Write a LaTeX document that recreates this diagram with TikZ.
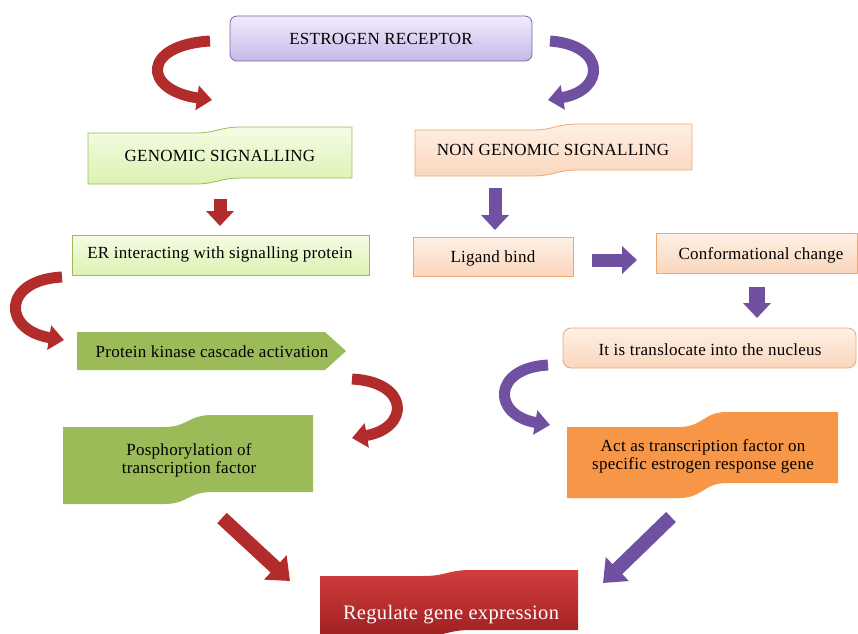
\documentclass[tikz,border=0pt]{standalone}
\usepackage{fontspec}
\setmainfont{Liberation Serif}[LetterSpace=1.5]
\usetikzlibrary{arrows.meta,shapes.symbols}
\definecolor{arrred}{RGB}{178,44,44}
\definecolor{arrpurple}{RGB}{112,80,160}
\definecolor{ertop}{RGB}{240,236,251}
\definecolor{erbot}{RGB}{198,184,232}
\definecolor{erline}{RGB}{128,100,162}
\definecolor{lgtop}{RGB}{244,252,228}
\definecolor{lgbot}{RGB}{220,242,178}
\definecolor{lgline}{RGB}{155,187,89}
\definecolor{pctop}{RGB}{254,240,230}
\definecolor{pcbot}{RGB}{250,214,188}
\definecolor{pcline}{RGB}{238,168,118}
\definecolor{kgreen}{RGB}{155,187,89}
\definecolor{ornge}{RGB}{247,150,70}
\definecolor{rbtop}{RGB}{210,62,62}
\definecolor{rbbot}{RGB}{160,32,32}
\newcommand{\wavebox}[7]{\path[#7] (#1,#3+#6) -- (#5-24,#3+#6) .. controls (#5,#3+#6) and (#5,#3) .. (#5+24,#3) -- (#2,#3) -- (#2,#4) -- (#5+24,#4) .. controls (#5,#4) and (#5,#4+#6) .. (#5-24,#4+#6) -- (#1,#4+#6) -- cycle;}
\tikzset{
  txt/.style={font=\fontsize{17}{18}\selectfont, align=center, inner sep=0pt},
  peachbox/.style={txt, draw=pcline, line width=0.8pt, top color=pctop, bottom color=pcbot},
  curvered/.style={draw=arrred, line width=11pt, -{Triangle[length=15pt,width=24pt]}},
  curvepurple/.style={draw=arrpurple, line width=11pt, -{Triangle[length=15pt,width=24pt]}},
  blockred/.style={draw=arrred, line width=13pt, -{Triangle[length=15pt,width=27pt]}},
  blockpurple/.style={draw=arrpurple, line width=13pt, -{Triangle[length=15pt,width=27pt]}}
}
\begin{document}
\begin{tikzpicture}[x=1pt,y=-1pt]
\useasboundingbox (0,0) rectangle (858,633);

\node[txt, rounded corners=7pt, draw=erline, line width=0.8pt, top color=ertop, bottom color=erbot, minimum width=302, minimum height=45] (er) at (381,38.5) {ESTROGEN RECEPTOR};

\wavebox{88}{352}{127}{178}{218}{6}{draw=lgline, line width=0.8pt, top color=lgtop, bottom color=lgbot}
\node[txt] (gen) at (220,156) {GENOMIC SIGNALLING};
\wavebox{415}{692}{124}{170}{555}{6}{draw=pcline, line width=0.8pt, top color=pctop, bottom color=pcbot}
\node[txt] (nongen) at (553,150) {NON GENOMIC SIGNALLING};

\node[txt, draw=lgline, line width=0.8pt, top color=lgtop, bottom color=lgbot, minimum width=297, minimum height=40] (erint) at (220.5,255) {};
\node[txt] (erinttxt) at (220,254.5) {ER interacting with signalling protein};
\node[peachbox, minimum width=160, minimum height=39] (lig) at (493,256.5) {};
\node[txt] (ligtxt) at (493,258) {Ligand bind};
\node[peachbox, minimum width=201, minimum height=40] (conf) at (757,253) {};
\node[txt] (conftxt) at (761,255) {Conformational change};
\node[peachbox, rounded corners=8pt, minimum width=293, minimum height=40] (transl) at (709.5,348) {};
\node[txt] (transltxt) at (710,350) {It is translocate into the nucleus};

\node[txt, shape=signal, signal to=east, signal from=nowhere, signal pointer angle=84, fill=kgreen, minimum width=269, minimum height=38] (kin) at (201,351) {};
\node[txt] (kintxt) at (212,351.5) {Protein kinase cascade activation};

\wavebox{63}{313}{415}{492}{188}{12}{fill=kgreen}
\node[txt] (phos) at (189,460) {Posphorylation of\\transcription factor};
\wavebox{567}{838}{412}{483}{703}{15}{fill=ornge}
\node[txt] (act) at (703,456) {Act as transcription factor on\\specific estrogen response gene};
\wavebox{320}{578}{570}{630}{447}{6}{top color=rbtop, bottom color=rbbot}
\node[txt, font=\fontsize{20.5}{22}\selectfont, text=white] (reg) at (451,615) {Regulate gene expression};

\coordinate (c1a) at (210,41);
\coordinate (c1b) at (212,100);
\coordinate (c2a) at (550,41);
\coordinate (c2b) at (548,100);
\coordinate (c3a) at (62,277);
\coordinate (c3b) at (64,340);
\coordinate (c4a) at (352,379);
\coordinate (c4b) at (352,438);
\coordinate (c5a) at (548,365);
\coordinate (c5b) at (550,425);
\draw[curvered] (c1a) .. controls (142,45) and (142,90) .. (c1b);
\draw[curvepurple] (c2a) .. controls (606,45) and (606,90) .. (c2b);
\draw[curvered] (c3a) .. controls (2,280) and (2,330) .. (c3b);
\draw[curvered] (c4a) .. controls (410,382) and (410,428) .. (c4b);
\draw[curvepurple] (c5a) .. controls (492,368) and (492,415) .. (c5b);

\coordinate (d1a) at (220,199);
\coordinate (d1b) at (220,226);
\coordinate (d2a) at (495,188);
\coordinate (d2b) at (495,230);
\coordinate (d3a) at (592,260);
\coordinate (d3b) at (637,260);
\coordinate (d4a) at (757,287);
\coordinate (d4b) at (757,318);
\coordinate (d5a) at (222,518);
\coordinate (d5b) at (290,581);
\coordinate (d6a) at (671,517);
\coordinate (d6b) at (603,583);
\draw[blockred] (d1a) -- (d1b);
\draw[blockpurple] (d2a) -- (d2b);
\draw[blockpurple] (d3a) -- (d3b);
\draw[blockpurple, line width=16pt] (d4a) -- (d4b);
\draw[blockred, line width=14pt, -{Triangle[length=20pt,width=32pt]}] (d5a) -- (d5b);
\draw[blockpurple, line width=14pt, -{Triangle[length=20pt,width=32pt]}] (d6a) -- (d6b);
\end{tikzpicture}
\end{document}
